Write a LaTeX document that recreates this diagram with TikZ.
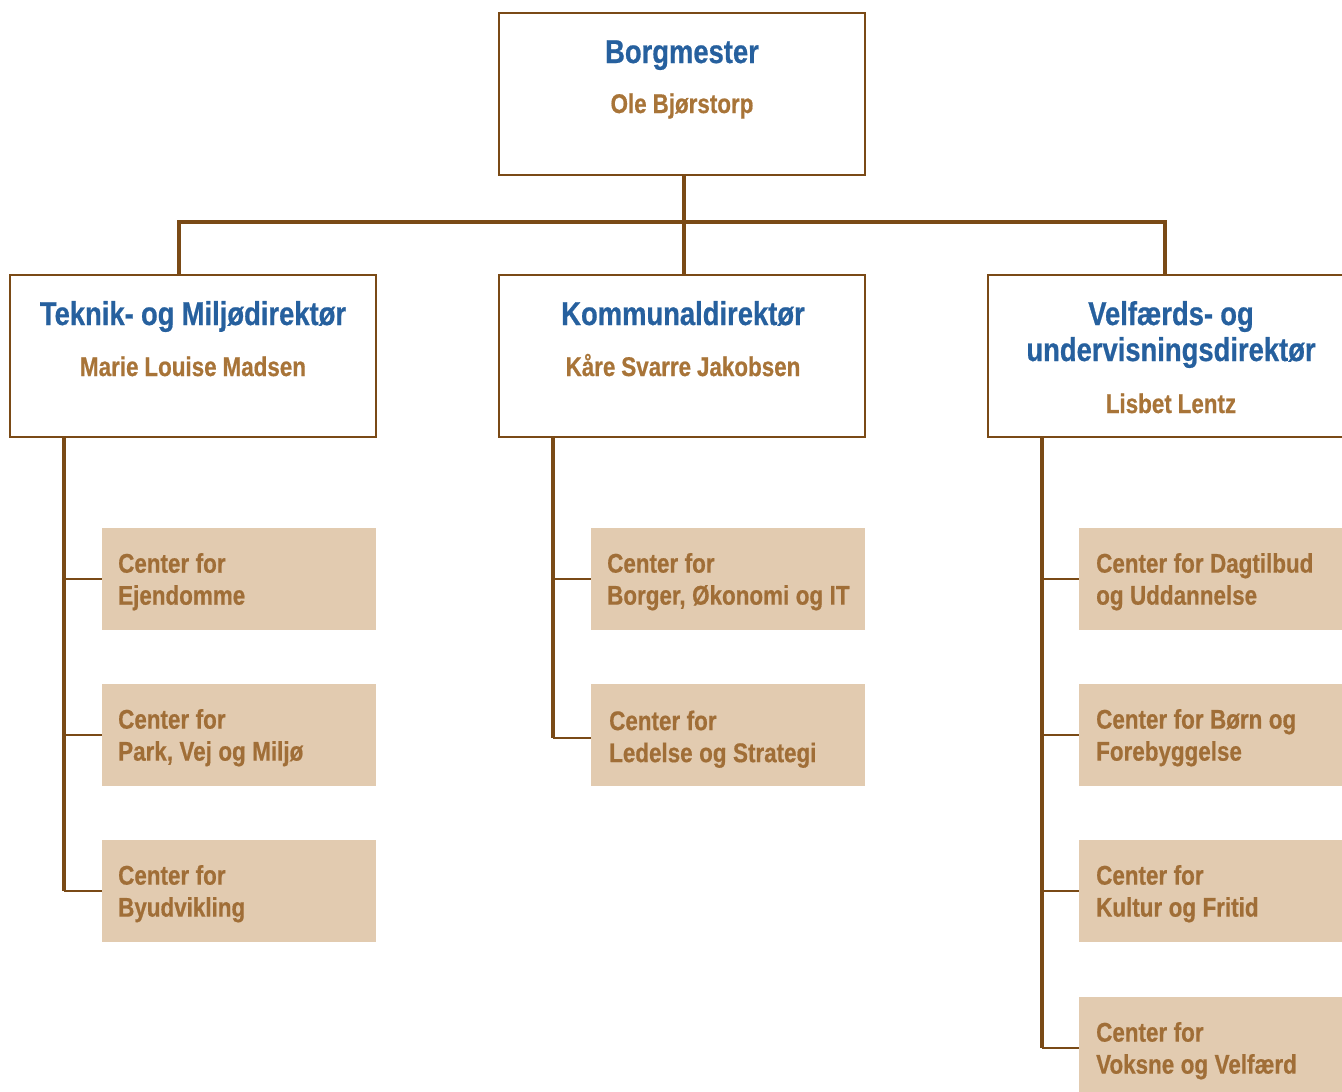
\documentclass[tikz,border=0pt]{standalone}
\usepackage{fontspec}
\newfontfamily\cond[FakeStretch=0.83,FakeBold=0.6,WordSpace=0.95]{Liberation Sans}
\definecolor{linebrown}{RGB}{122,74,22}
\definecolor{boxfill}{RGB}{226,203,176}
\definecolor{ctext}{RGB}{160,110,55}
\definecolor{ntext}{RGB}{168,116,56}
\definecolor{tblue}{RGB}{38,96,158}
\newcommand{\cbox}[3][8pt]{\spaceskip=6.5pt\xspaceskip=6.5pt\hspace*{#1}\rule{0pt}{25pt}#2\\\hspace*{#1}#3\rule[-5pt]{0pt}{5pt}}
\tikzset{
  bigbox/.style={draw=linebrown, line width=2.5pt, fill=white, rectangle, minimum width=366pt, minimum height=162pt, inner sep=0pt},
  title/.style={text=tblue, font=\cond\bfseries\fontsize{33}{36}\selectfont, inner sep=0pt, anchor=base},
  person/.style={text=ntext, font=\cond\bfseries\fontsize{27}{30}\selectfont, inner sep=0pt, anchor=base},
  center/.style={fill=boxfill, rectangle, minimum width=274pt, minimum height=102pt, text width=258pt, inner xsep=8pt, inner ysep=0pt, align=left, text=ctext, font=\cond\bfseries\fontsize{27}{32}\selectfont, anchor=west},
  conn/.style={draw=linebrown, line width=4.5pt},
  spine/.style={draw=linebrown, line width=4.5pt},
  branch/.style={draw=linebrown, line width=2.5pt},
}
\begin{document}
\begin{tikzpicture}[x=1pt,y=-1pt]
\clip (0,0) rectangle (1342,1092);
\fill[white] (0,0) rectangle (1342,1092);
% top
\node[bigbox] (top) at (682,94) {};
\node[title] (topT) at (682,63) {Borgmester};
\node[person] (topN) at (682,113) {Ole Bjørstorp};
% level 2
\node[bigbox] (L) at (193,356) {};
\node[title] (LT) at (193,325) {Teknik- og Miljødirektør};
\node[person] (LN) at (193,376) {Marie Louise Madsen};
\node[bigbox] (M) at (682,356) {};
\node[title] (MT) at (683,325) {Kommunaldirektør};
\node[person] (MN) at (683,376) {Kåre Svarre Jakobsen};
\node[bigbox] (R) at (1171,356) {};
\node[title] (RT1) at (1171,325) {Velfærds- og};
\node[title] (RT2) at (1171,361) {undervisningsdirektør};
\node[person] (RN) at (1171,413) {Lisbet Lentz};
% top connectors
\coordinate (hub) at (684,222);
\draw[conn] (684,175) -- (hub);
\draw[conn] (179,275) |- (hub) -| (1165,275);
\draw[conn] (hub) -- (684,275);
% centers left
\node[center] (l1) at (102,579) {\cbox{Center for}{Ejendomme}};
\node[center] (l2) at (102,735) {\cbox{Center for}{Park, Vej og Miljø}};
\node[center] (l3) at (102,891) {\cbox{Center for}{Byudvikling}};
% centers middle
\node[center] (m1) at (591,579) {\cbox{Center for}{Borger, Økonomi og IT}};
\node[center] (m2) at (591,735) {\cbox[10pt]{\raisebox{-3pt}{Center for}}{\raisebox{-3pt}{Ledelse og Strategi}}};
% centers right
\node[center] (r1) at (1079,579) {\cbox[9pt]{Center for Dagtilbud}{og Uddannelse}};
\node[center] (r2) at (1079,735) {\cbox[9pt]{Center for Børn og}{Forebyggelse}};
\node[center] (r3) at (1079,891) {\cbox[9pt]{Center for}{Kultur og Fritid}};
\node[center] (r4) at (1079,1048) {\cbox[9pt]{Center for}{Voksne og Velfærd}};
% spines
\coordinate (sL) at (64,437);
\coordinate (sM) at (553,437);
\coordinate (sR) at (1042,437);
\coordinate (m2b) at ([yshift=-3pt]m2.west);
\draw[spine] (sL) -- (sL |- l3.west);
\draw[spine] (sM) -- (sM |- m2b);
\draw[spine] (sR) -- (sR |- r4.west);
\foreach \n in {l1,l2,l3} \draw[branch] (sL |- \n.west) -- (\n.west);
\draw[branch] (sM |- m1.west) -- (m1.west);
\draw[branch] (sM |- m2b) -- (m2b);
\foreach \n in {r1,r2,r3,r4} \draw[branch] (sR |- \n.west) -- (\n.west);
\end{tikzpicture}
\end{document}
